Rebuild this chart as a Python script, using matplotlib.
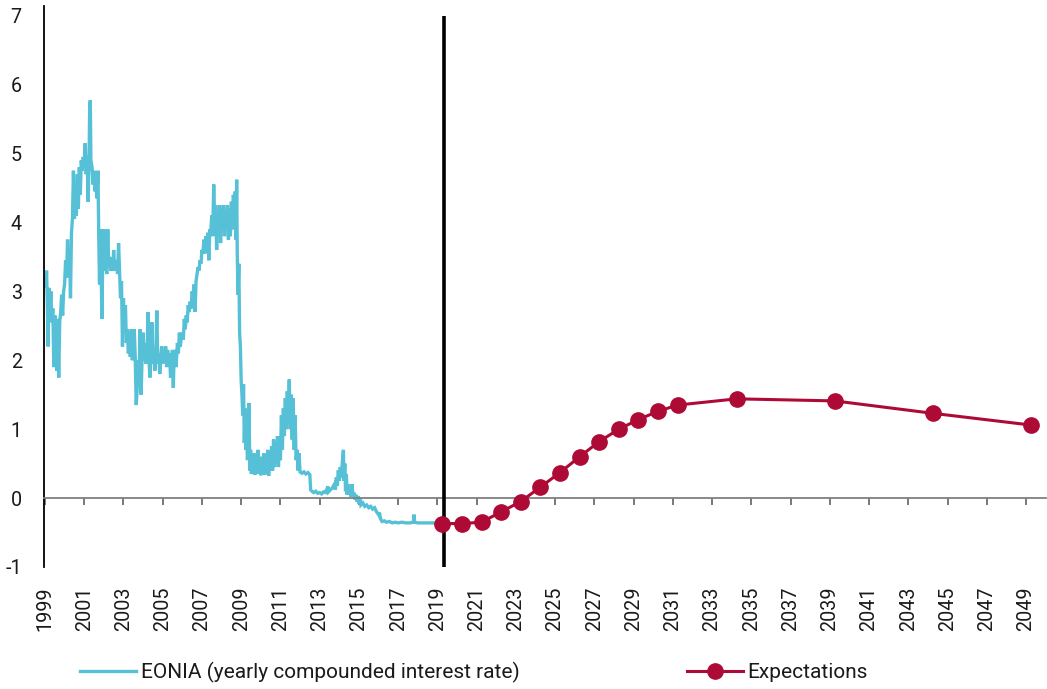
import matplotlib
matplotlib.use("Agg")
import matplotlib.pyplot as plt

plt.rcParams['font.family'] = ['Roboto', 'DejaVu Sans']

# ---------------- data ----------------
EONIA_T = [
    1999.00, 1999.04, 1999.08, 1999.12, 1999.16, 1999.20, 1999.25, 1999.30, 1999.35, 1999.40,
    1999.45, 1999.50, 1999.55, 1999.60, 1999.65, 1999.70, 1999.75, 1999.80, 1999.85, 1999.90,
    1999.95, 2000.00, 2000.05, 2000.10, 2000.15, 2000.20, 2000.25, 2000.30, 2000.35, 2000.40,
    2000.45, 2000.50, 2000.55, 2000.60, 2000.65, 2000.70, 2000.75, 2000.80, 2000.85, 2000.90,
    2000.95, 2001.00, 2001.05, 2001.10, 2001.15, 2001.20, 2001.25, 2001.28, 2001.31, 2001.34,
    2001.40, 2001.45, 2001.50, 2001.55, 2001.60, 2001.65, 2001.70, 2001.74, 2001.78, 2001.82,
    2001.86, 2001.90, 2001.94, 2002.00, 2002.05, 2002.10, 2002.15, 2002.20, 2002.25, 2002.30,
    2002.35, 2002.40, 2002.45, 2002.50, 2002.55, 2002.60, 2002.65, 2002.70, 2002.75, 2002.80,
    2002.85, 2002.90, 2002.95, 2003.00, 2003.05, 2003.10, 2003.15, 2003.20, 2003.25, 2003.30,
    2003.35, 2003.40, 2003.45, 2003.50, 2003.55, 2003.60, 2003.65, 2003.70, 2003.75, 2003.80,
    2003.85, 2003.90, 2003.95, 2004.00, 2004.05, 2004.10, 2004.15, 2004.20, 2004.25, 2004.30,
    2004.35, 2004.40, 2004.45, 2004.50, 2004.55, 2004.60, 2004.65, 2004.70, 2004.75, 2004.80,
    2004.85, 2004.90, 2004.95, 2005.00, 2005.05, 2005.10, 2005.15, 2005.20, 2005.25, 2005.30,
    2005.35, 2005.40, 2005.45, 2005.50, 2005.54, 2005.58, 2005.63, 2005.68, 2005.75, 2005.80,
    2005.85, 2005.90, 2005.95, 2006.00, 2006.05, 2006.10, 2006.15, 2006.20, 2006.25, 2006.30,
    2006.35, 2006.40, 2006.45, 2006.50, 2006.55, 2006.60, 2006.65, 2006.70, 2006.75, 2006.80,
    2006.85, 2006.90, 2006.95, 2007.00, 2007.05, 2007.10, 2007.15, 2007.20, 2007.25, 2007.30,
    2007.35, 2007.40, 2007.45, 2007.50, 2007.55, 2007.60, 2007.65, 2007.70, 2007.75, 2007.80,
    2007.85, 2007.90, 2007.95, 2008.00, 2008.05, 2008.10, 2008.15, 2008.20, 2008.25, 2008.30,
    2008.35, 2008.40, 2008.45, 2008.50, 2008.55, 2008.60, 2008.65, 2008.70, 2008.74, 2008.77,
    2008.80, 2008.84, 2008.88, 2008.92, 2008.96, 2009.00, 2009.04, 2009.08, 2009.12, 2009.16,
    2009.20, 2009.24, 2009.28, 2009.32, 2009.36, 2009.40, 2009.44, 2009.48, 2009.52, 2009.56,
    2009.60, 2009.65, 2009.70, 2009.75, 2009.80, 2009.85, 2009.90, 2009.95, 2010.00, 2010.05,
    2010.10, 2010.15, 2010.20, 2010.25, 2010.30, 2010.35, 2010.40, 2010.45, 2010.50, 2010.55,
    2010.60, 2010.65, 2010.70, 2010.75, 2010.80, 2010.85, 2010.90, 2010.95, 2011.00, 2011.05,
    2011.10, 2011.15, 2011.20, 2011.25, 2011.30, 2011.35, 2011.40, 2011.45, 2011.50, 2011.55,
    2011.60, 2011.65, 2011.70, 2011.75, 2011.80, 2011.85, 2011.90, 2011.95, 2012.00, 2012.10,
    2012.20, 2012.30, 2012.40, 2012.50, 2012.54, 2012.60, 2012.70, 2012.80, 2012.90, 2013.00,
    2013.10, 2013.20, 2013.30, 2013.42, 2013.45, 2013.55, 2013.65, 2013.75, 2013.80, 2013.85,
    2013.90, 2013.95, 2014.00, 2014.05, 2014.10, 2014.15, 2014.21, 2014.24, 2014.28, 2014.32,
    2014.36, 2014.40, 2014.44, 2014.50, 2014.55, 2014.60, 2014.65, 2014.70, 2014.75, 2014.80,
    2014.85, 2014.90, 2014.95, 2015.00, 2015.05, 2015.10, 2015.20, 2015.30, 2015.40, 2015.50,
    2015.60, 2015.70, 2015.80, 2015.90, 2016.00, 2016.05, 2016.10, 2016.18, 2016.30, 2016.40,
    2016.55, 2016.70, 2016.85, 2017.00, 2017.20, 2017.40, 2017.60, 2017.78, 2017.81, 2017.84,
    2018.00, 2018.20, 2018.40, 2018.60, 2018.80, 2019.00, 2019.22,
]
EONIA_V = [
    3.20, 3.05, 3.30, 2.85, 2.20, 3.05, 2.70, 3.00, 2.55, 2.75,
    1.90, 2.65, 2.45, 1.85, 2.60, 1.75, 2.55, 2.70, 2.95, 2.65,
    3.00, 3.10, 3.45, 3.20, 3.75, 3.40, 3.60, 2.90, 3.85, 4.05,
    4.75, 4.05, 4.30, 4.10, 4.70, 4.20, 4.80, 4.40, 4.90, 4.75,
    4.95, 4.80, 5.15, 4.70, 4.95, 4.30, 5.00, 5.70, 5.77, 4.90,
    4.80, 4.55, 4.75, 4.45, 4.55, 4.35, 4.75, 3.80, 3.10, 3.90,
    3.40, 2.60, 3.35, 3.90, 3.30, 3.45, 3.25, 3.90, 3.35, 3.50,
    3.30, 3.40, 3.30, 3.60, 3.35, 3.30, 3.45, 3.25, 3.70, 3.30,
    2.90, 3.15, 2.20, 2.90, 2.50, 2.80, 2.25, 2.45, 2.10, 2.35,
    2.05, 2.45, 2.00, 2.15, 2.45, 2.05, 1.35, 1.60, 2.00, 1.85,
    2.45, 1.50, 2.05, 2.40, 2.00, 2.25, 1.95, 2.10, 2.70, 2.00,
    1.75, 2.05, 2.55, 1.95, 2.15, 1.85, 2.10, 2.72, 1.95, 2.10,
    1.80, 2.05, 2.20, 1.95, 2.10, 2.00, 2.20, 1.90, 2.15, 2.00,
    2.10, 1.75, 2.05, 2.15, 1.60, 2.05, 2.15, 1.90, 2.25, 2.10,
    2.40, 2.20, 2.35, 2.40, 2.30, 2.60, 2.45, 2.65, 2.55, 2.80,
    2.70, 2.85, 2.75, 3.00, 2.90, 3.10, 2.70, 3.15, 3.25, 3.35,
    3.30, 3.45, 3.40, 3.60, 3.55, 3.75, 3.55, 3.80, 3.70, 3.85,
    3.45, 3.90, 3.85, 4.10, 3.80, 4.55, 3.95, 4.25, 3.60, 4.15,
    4.00, 4.25, 3.70, 4.20, 4.05, 4.25, 3.80, 4.15, 4.00, 4.25,
    3.75, 4.20, 3.80, 4.30, 3.90, 4.40, 4.20, 4.45, 3.75, 4.62,
    3.55, 2.95, 3.40, 2.40, 2.20, 1.70, 1.50, 1.20, 1.65, 0.80,
    1.30, 0.70, 1.00, 0.55, 0.90, 1.38, 0.40, 0.70, 0.35, 0.55,
    0.35, 0.65, 0.34, 0.60, 0.35, 0.70, 0.38, 0.55, 0.33, 0.60,
    0.35, 0.65, 0.34, 0.55, 0.35, 0.70, 0.32, 0.62, 0.40, 0.75,
    0.40, 0.85, 0.45, 0.80, 0.50, 0.90, 0.45, 0.85, 0.55, 1.20,
    0.70, 1.30, 0.90, 1.45, 1.00, 1.55, 1.10, 1.72, 1.00, 1.50,
    0.85, 1.45, 0.70, 1.20, 0.55, 0.70, 0.40, 0.65, 0.38, 0.36,
    0.38, 0.35, 0.37, 0.34, 0.12, 0.10, 0.08, 0.10, 0.07, 0.08,
    0.06, 0.09, 0.08, 0.17, 0.09, 0.12, 0.15, 0.20, 0.12, 0.30,
    0.18, 0.40, 0.25, 0.45, 0.30, 0.50, 0.70, 0.25, 0.50, 0.10,
    0.35, 0.05, 0.20, 0.05, 0.15, 0.02, 0.20, 0.03, 0.08, -0.02,
    0.05, -0.05, 0.03, -0.08, 0.00, -0.10, -0.07, -0.12, -0.10, -0.14,
    -0.12, -0.16, -0.14, -0.20, -0.24, -0.21, -0.30, -0.34, -0.33, -0.35,
    -0.34, -0.36, -0.35, -0.36, -0.35, -0.36, -0.36, -0.35, -0.24, -0.35,
    -0.36, -0.36, -0.36, -0.36, -0.36, -0.37, -0.37,
]

EXP_YEARS = [2019.25, 2020.25, 2021.25, 2022.25, 2023.25, 2024.25, 2025.25, 2026.25,
             2027.25, 2028.25, 2029.25, 2030.25, 2031.25, 2034.25, 2039.25, 2044.25, 2049.25]
EXP_VALUES = [-0.37, -0.37, -0.35, -0.20, -0.05, 0.16, 0.37, 0.60,
              0.82, 1.00, 1.14, 1.26, 1.35, 1.44, 1.41, 1.23, 1.06]

TICK_YEARS = list(range(1999, 2050, 2))
TICK_LABELS = [str(y) for y in TICK_YEARS]
Y_TICKS = list(range(-1, 8))

EONIA_LABEL = "EONIA (yearly compounded interest rate)"
EXP_LABEL = "Expectations"

CYAN = "#56C1D6"
RED = "#AE0A36"
TXT = "#1a1a1a"

# ---------------- figure ----------------
W, H = 1047, 689
fig = plt.figure(figsize=(W / 100, H / 100), dpi=100)
ax = fig.add_axes([44 / W, 1 - 567 / H, 1001.6 / W, 561 / H])

ax.set_xlim(1998.95, 2050.0)
ax.set_ylim(-1, 7.14)

l1, = ax.plot(EONIA_T, EONIA_V, color=CYAN, lw=2.4, solid_joinstyle='miter', zorder=2,
              label=EONIA_LABEL)
ax.vlines(EXP_YEARS[0] + 0.08, -1, 7, color='black', lw=2.6, zorder=3)
l2, = ax.plot(EXP_YEARS, EXP_VALUES, color=RED, lw=2.2, marker='o', markersize=11,
              zorder=4, label=EXP_LABEL)

# spines
for s in ['top', 'right']:
    ax.spines[s].set_visible(False)
ax.spines['left'].set_color('black')
ax.spines['left'].set_linewidth(1.3)
ax.spines['bottom'].set_position(('data', 0))
ax.spines['bottom'].set_color('#808080')
ax.spines['bottom'].set_linewidth(1.3)

# y ticks
ax.set_yticks(Y_TICKS)
ax.set_yticklabels([str(v) for v in Y_TICKS])
ax.tick_params(axis='y', length=0, pad=16, labelsize=14.2, labelcolor=TXT)

# x ticks at zero line (marks only)
ax.set_xticks(TICK_YEARS)
ax.tick_params(axis='x', direction='out', length=5, width=1.1, color='#555555',
               labelbottom=False)

# x labels at the bottom of the axes
sec = ax.secondary_xaxis(0.0)
sec.set_xticks(TICK_YEARS)
sec.set_xticklabels(TICK_LABELS, rotation=90)
sec.tick_params(axis='x', length=0, pad=14, labelsize=14.2, labelcolor=TXT)
sec.spines['bottom'].set_visible(False)

# legend
fig.legend(handles=[l1, l2], loc='center left', bbox_to_anchor=(0.0589, 1 - 672 / H),
           ncol=2, frameon=False, fontsize=15, handlelength=2.65, handletextpad=0.25,
           columnspacing=8.05, labelcolor=TXT)

fig.savefig("out.png", dpi=100)
